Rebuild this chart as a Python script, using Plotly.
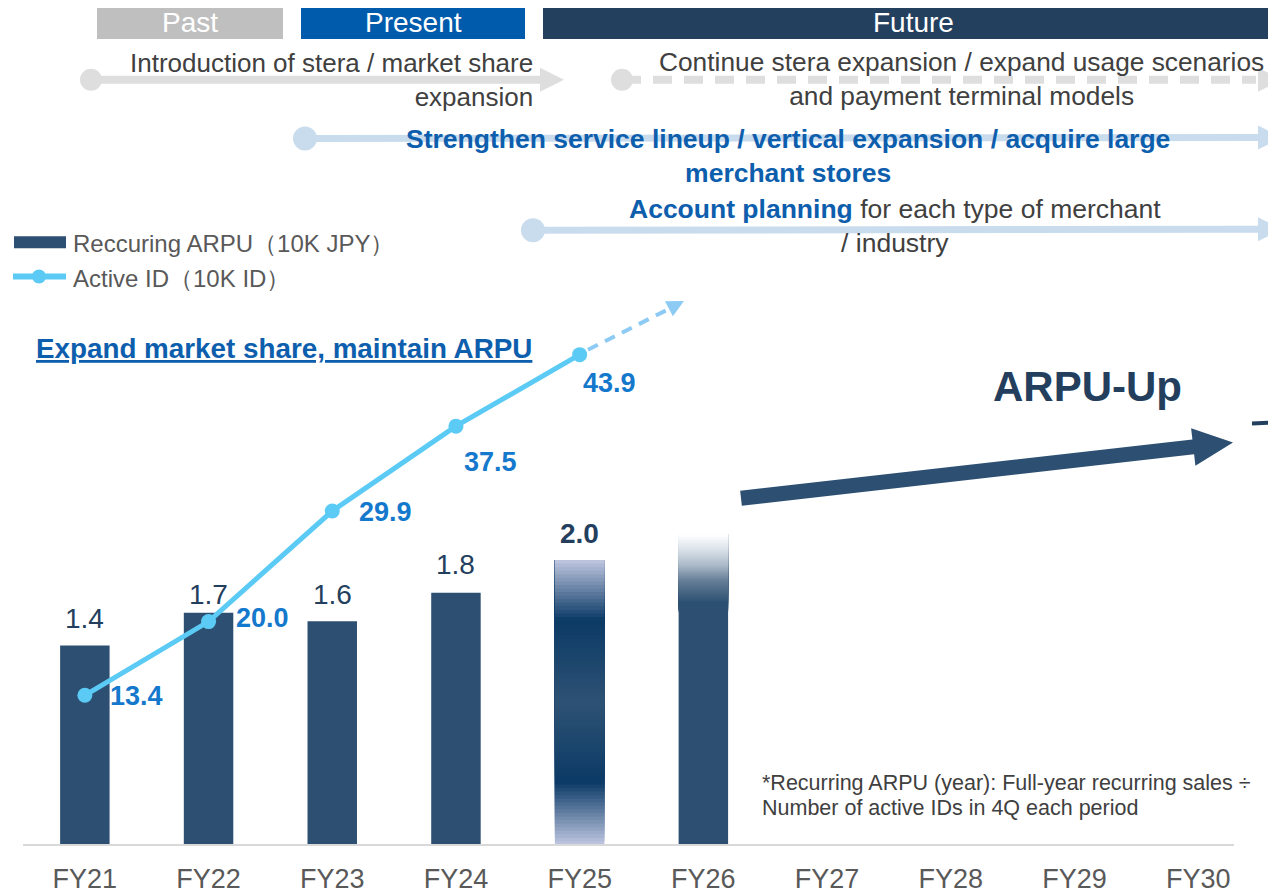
import math
import plotly.graph_objects as go

# ---------------- data ----------------
categories = ["FY21", "FY22", "FY23", "FY24", "FY25", "FY26", "FY27", "FY28", "FY29", "FY30"]
arpu_years = ["FY21", "FY22", "FY23", "FY24", "FY25", "FY26"]
arpu_values = [1.40, 1.63, 1.57, 1.77, 2.00, 2.18]
arpu_labels = ["1.4", "1.7", "1.6", "1.8", "2.0", ""]
id_years = ["FY21", "FY22", "FY23", "FY24", "FY25"]
id_values = [13.4, 20.0, 29.9, 37.5, 43.9]
id_labels = ["13.4", "20.0", "29.9", "37.5", "43.9"]

# ---------------- styling / geometry ----------------
FONT = "Liberation Sans, Arial, sans-serif"
OFF = 8                      # default body margin of the page
W, H = 1276 - OFF, 894 - OFF
PLOT_X0, PLOT_X1 = 23, 1260  # screen pixels
PLOT_Y0, PLOT_Y1 = OFF, 848
PW, PH = PLOT_X1 - PLOT_X0, PLOT_Y1 - PLOT_Y0
ML, MT = PLOT_X0 - OFF, 0
MR, MB = W - ML - PW, H - MT - PH
BAR_COLOR = "#2D5072"
LINE_COLOR = "#5BCBF5"
ID_LABEL_COLOR = "#1478CC"
BAR_LABEL_COLOR = "#243F5E"
TEXT_GRAY = "#404040"
BLUE_TEXT = "#0D5EAD"
ARROW_GRAY = "#DEDEDE"
ARROW_BLUE = "#C9DCEE"
id_label_offsets = [(52, -1), (54, 4), (53, -1), (35, -36), (30, -28)]
bar_label_yshift = [27, 18, 27, 28, 27, 27]
Y1_PX_PER_UNIT = 143.0
Y2_PX_PER_UNIT = 11.21


def px(x):
    return (x - PLOT_X0) / PW


def py(y):
    return (PLOT_Y1 - y) / PH


def poly(points):
    return "M " + " L ".join(f"{px(x):.5f},{py(y):.5f}" for x, y in points) + " Z"


def arrow_poly(x0, y0, x1, y1, sw, hl, hw):
    dx, dy = x1 - x0, y1 - y0
    L = math.hypot(dx, dy)
    ux, uy = dx / L, dy / L
    nx, ny = -uy, ux
    bx, by = x1 - ux * hl, y1 - uy * hl
    s = sw / 2
    return poly([
        (x0 + nx * s, y0 + ny * s), (bx + nx * s, by + ny * s), (bx + nx * hw, by + ny * hw),
        (x1, y1), (bx - nx * hw, by - ny * hw), (bx - nx * s, by - ny * s), (x0 - nx * s, y0 - ny * s)])


def head_poly(x0, y0, x1, y1, hl, hw):
    dx, dy = x1 - x0, y1 - y0
    L = math.hypot(dx, dy)
    ux, uy = dx / L, dy / L
    nx, ny = -uy, ux
    bx, by = x1 - ux * hl, y1 - uy * hl
    return poly([(bx + nx * hw, by + ny * hw), (x1, y1), (bx - nx * hw, by - ny * hw)])


def circle(cx, cy, r, color, layer="below"):
    return dict(type="circle", xref="paper", yref="paper", x0=px(cx - r), x1=px(cx + r),
                y0=py(cy + r), y1=py(cy - r), fillcolor=color, line=dict(width=0), layer=layer)


def mix(c1, c2, t):
    return "rgb(" + ",".join(str(int(round(a + (b - a) * t))) for a, b in zip(c1, c2)) + ")"


def profile(stops, t):
    for (t0, c0), (t1, c1) in zip(stops, stops[1:]):
        if t0 <= t <= t1:
            return mix(c0, c1, (t - t0) / (t1 - t0) if t1 > t0 else 0)
    return mix(stops[-1][1], stops[-1][1], 0)


def txt(x, y, text, size, color, xanchor="center", align="center", bold=False, **font_extra):
    return dict(x=px(x), y=py(y), xref="paper", yref="paper", xanchor=xanchor, yanchor="middle",
                align=align, showarrow=False, text=f"<b>{text}</b>" if bold else text,
                font=dict(family=FONT, size=size, color=color, **font_extra))


fig = go.Figure()

# main bars (FY25/FY26 are painted by the gradient overlays)
main_colors = [BAR_COLOR if y not in ("FY25", "FY26") else "rgba(0,0,0,0)" for y in arpu_years]
fig.add_trace(go.Bar(x=arpu_years, y=arpu_values, width=0.4, marker=dict(color=main_colors, line=dict(width=0)),
                     hoverinfo="skip", showlegend=False))

# gradient overlay FY25 (nested bars: each one from its slice bottom up to the value)
N = 80
v25 = arpu_values[arpu_years.index("FY25")]
light = (192, 199, 225)
dark = (11, 58, 102)
mid = (46, 82, 116)
stops25 = [(0.0, light), (0.22, dark), (0.5, mid), (0.79, dark), (1.0, light)]
b25 = [v25 * i / N for i in range(N)]
fig.add_trace(go.Bar(x=["FY25"] * N, y=[v25 - b for b in b25], base=b25, width=0.4,
                     marker=dict(color=[profile(stops25, (i + 0.5) / N) for i in range(N)], line=dict(width=0)),
                     hoverinfo="skip", showlegend=False))

# gradient overlay FY26 (fade at top)
v26 = arpu_values[arpu_years.index("FY26")]
solid = (45, 80, 114)
white = (255, 255, 255)
stops26 = [(0.0, solid), (0.78, solid), (0.85, (100, 125, 150)), (0.90, (170, 185, 200)),
           (0.955, (222, 228, 235)), (1.0, white)]
b26 = [0.0] + [v26 * (0.75 + 0.25 * i / N) for i in range(N)]
c26 = [mix(solid, solid, 0)] + [profile(stops26, 0.75 + 0.25 * (i + 0.5) / N) for i in range(N)]
fig.add_trace(go.Bar(x=["FY26"] * len(b26), y=[v26 - b for b in b26], base=b26, width=0.4,
                     marker=dict(color=c26, line=dict(width=0)), hoverinfo="skip", showlegend=False))

# active ID line
fig.add_trace(go.Scatter(x=id_years, y=id_values, yaxis="y2", mode="lines+markers",
                         line=dict(color=LINE_COLOR, width=5), marker=dict(color=LINE_COLOR, size=15),
                         hoverinfo="skip", showlegend=False))

annotations = []
shapes = []

# bar value labels
for (yr, v, lab), ys in zip(zip(arpu_years, arpu_values, arpu_labels), bar_label_yshift):
    if not lab:
        continue
    t = f"<b>{lab}</b>" if yr == "FY25" else lab
    annotations.append(dict(x=yr, y=v, xref="x", yref="y", text=t, showarrow=False, yshift=ys,
                            xanchor="center", yanchor="middle",
                            font=dict(family=FONT, size=28, color=BAR_LABEL_COLOR)))

# active id labels
for (yr, v, lab), (dx, dy) in zip(zip(id_years, id_values, id_labels), id_label_offsets):
    annotations.append(dict(x=yr, y=v, xref="x", yref="y2", text=f"<b>{lab}</b>", showarrow=False,
                            xanchor="center", yanchor="middle", xshift=dx, yshift=dy,
                            font=dict(family=FONT, size=27, color=ID_LABEL_COLOR)))

# header boxes
for x0, x1, col, label, cx in [(97, 283, "#BFBFBF", "Past", 190), (301, 525, "#005BAC", "Present", 413),
                                (543, 1290, "#23405F", "Future", 913)]:
    shapes.append(dict(type="rect", xref="paper", yref="paper", x0=px(x0), x1=px(x1), y0=py(39), y1=py(6),
                       fillcolor=col, line=dict(width=0), layer="below"))
    annotations.append(txt(cx, 23, label, 28, "white"))

# row 1 arrows
shapes.append(circle(91, 80, 11, ARROW_GRAY))
shapes.append(dict(type="path", xref="paper", yref="paper", path=arrow_poly(91, 80, 564, 80, 8, 24, 12),
                   fillcolor=ARROW_GRAY, line=dict(width=0), layer="below"))
shapes.append(circle(622, 80, 11, ARROW_GRAY))
shapes.append(dict(type="line", xref="paper", yref="paper", x0=px(622), x1=px(1256), y0=py(80), y1=py(80),
                   line=dict(color=ARROW_GRAY, width=8, dash="19px,12px"), layer="below"))
shapes.append(dict(type="path", xref="paper", yref="paper", path=head_poly(622, 80, 1282, 80, 24, 12),
                   fillcolor=ARROW_GRAY, line=dict(width=0), layer="below"))
# row 2 / row 3 arrows
for cx, cy in [(305, 139), (533, 231)]:
    shapes.append(circle(cx, cy, 12, ARROW_BLUE))
    shapes.append(dict(type="path", xref="paper", yref="paper", path=arrow_poly(cx, cy, 1282, cy - 1, 7, 24, 12),
                       fillcolor=ARROW_BLUE, line=dict(width=0), layer="below"))

annotations += [
    txt(535, 80.5, "Introduction of stera / market share<br>expansion", 26, TEXT_GRAY,
        xanchor="right", align="right"),
    txt(961, 79, "Continue stera expansion / expand usage scenarios<br>and payment terminal models", 26.3, TEXT_GRAY),
    txt(788, 156.5, "Strengthen service lineup / vertical expansion / acquire large<br>merchant stores",
        26.5, BLUE_TEXT, bold=True),
    txt(895, 227, f"<b><span style='color:{BLUE_TEXT}'>Account planning</span></b> for each type of merchant"
                  "<br>/ industry", 26.5, TEXT_GRAY),
    txt(34, 350, "Expand market share, maintain ARPU", 27.8, BLUE_TEXT, xanchor="left", align="left",
        bold=True, lineposition="under"),
    txt(1087, 388, "ARPU-Up", 42, "#243F5E", bold=True),
    txt(760, 786, "*Recurring ARPU (year): Full-year recurring sales ÷", 21.5, TEXT_GRAY,
        xanchor="left", align="left"),
    txt(760, 811, "Number of active IDs in 4Q each period", 21.5, TEXT_GRAY, xanchor="left", align="left"),
    # legend texts
    txt(71, 244, "Reccuring ARPU（10K JPY）", 24, "#595959", xanchor="left", align="left"),
    txt(71, 279, "Active ID（10K ID）", 24, "#595959", xanchor="left", align="left"),
]

# legend symbols
shapes.append(dict(type="rect", xref="paper", yref="paper", x0=px(14), x1=px(66), y0=py(249), y1=py(237),
                   fillcolor=BAR_COLOR, line=dict(width=0)))
shapes.append(dict(type="line", xref="paper", yref="paper", x0=px(13), x1=px(66), y0=py(277.5), y1=py(277.5),
                   line=dict(color=LINE_COLOR, width=6)))
shapes.append(circle(39, 277.5, 7, LINE_COLOR, layer="above"))

# dashed projection arrow after FY25
shapes.append(dict(type="line", xref="paper", yref="paper", x0=px(588), y0=py(351), x1=px(671), y1=py(309),
                   line=dict(color="#8DCBF5", width=4, dash="11px,8px")))
shapes.append(dict(type="path", xref="paper", yref="paper", path=head_poly(579, 357, 684, 302, 17, 8.5),
                   fillcolor="#8DCBF5", line=dict(width=0)))

# big ARPU-Up arrow
shapes.append(dict(type="path", xref="paper", yref="paper", path=arrow_poly(741, 500, 1233, 444, 15, 40, 19),
                   fillcolor=BAR_COLOR, line=dict(width=0)))
# partial element at right edge
shapes.append(dict(type="line", xref="paper", yref="paper", x0=px(1252), x1=px(1290), y0=py(425), y1=py(423),
                   line=dict(color="#23405F", width=4)))

# baseline
shapes.append(dict(type="line", xref="paper", yref="paper", x0=px(23), x1=px(1234), y0=py(848), y1=py(848),
                   line=dict(color="#D9D9D9", width=2)))

fig.update_layout(
    width=W, height=H, autosize=False,
    margin=dict(l=ML, r=MR, t=MT, b=MB, pad=0),
    paper_bgcolor="white", plot_bgcolor="white",
    barmode="overlay",
    showlegend=False,
    xaxis=dict(type="category", categoryorder="array", categoryarray=categories, range=[-0.5, 9.5],
               showgrid=False, zeroline=False, showline=False, ticks="",
               tickfont=dict(family=FONT, size=27, color="#595959"), ticklabelstandoff=15, fixedrange=True),
    yaxis=dict(range=[0, PH / Y1_PX_PER_UNIT], visible=False, fixedrange=True),
    yaxis2=dict(range=[0, PH / Y2_PX_PER_UNIT], overlaying="y", visible=False, fixedrange=True),
    annotations=annotations,
    shapes=shapes,
)

fig.write_html("out.html")
